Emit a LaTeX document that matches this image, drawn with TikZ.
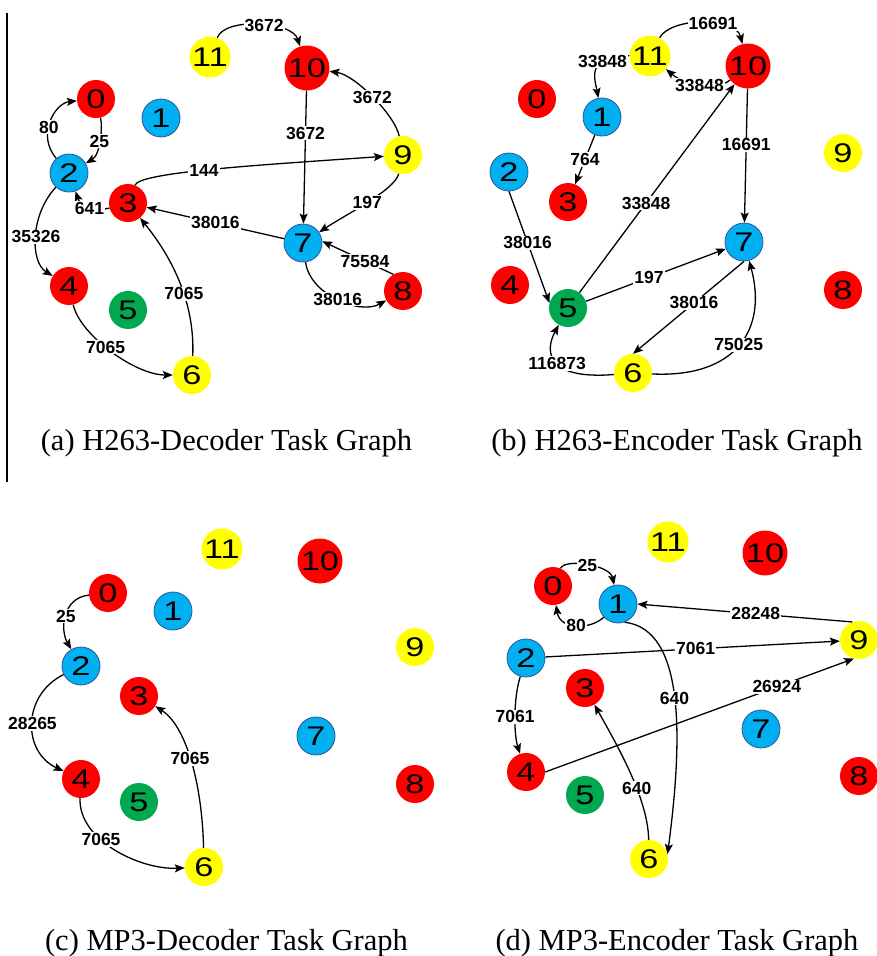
\documentclass[tikz,border=0pt]{standalone}
\usepackage{fontspec}
\setmainfont{Liberation Serif}
\newfontfamily\arialfont{Liberation Sans}
\usetikzlibrary{arrows.meta}

\definecolor{tred}{RGB}{255,0,0}
\definecolor{tyellow}{RGB}{255,255,0}
\definecolor{tgreen}{RGB}{0,168,80}
\definecolor{tblue}{RGB}{0,176,240}
\definecolor{tblueline}{RGB}{47,85,151}

% task numbers are set a little wide
\newcommand{\tasknum}[1]{\scalebox{1.27}[1]{#1}}

\tikzset{
  task/.style={circle, inner sep=0pt, minimum size=38pt,
    font=\arialfont\fontsize{27}{27}\selectfont, text=black},
  redtask/.style={task, fill=tred},
  yellowtask/.style={task, fill=tyellow},
  greentask/.style={task, fill=tgreen},
  bluetask/.style={task, fill=tblue, draw=tblueline, line width=0.8pt},
  % colour of each task index (same in every graph)
  t0/.style={redtask}, t1/.style={bluetask}, t2/.style={bluetask},
  t3/.style={redtask}, t4/.style={redtask}, t5/.style={greentask},
  t6/.style={yellowtask}, t7/.style={bluetask}, t8/.style={redtask},
  t9/.style={yellowtask}, t10/.style={redtask, minimum size=45pt},
  t11/.style={yellowtask, minimum size=41pt},
  edge/.style={line width=1.3pt, -{Stealth[length=10pt,width=8pt,inset=2pt]}},
  lbl/.style={fill=white, inner sep=1pt,
    font=\arialfont\bfseries\fontsize{17.5}{17.5}\selectfont},
  caption/.style={anchor=base, inner sep=0pt,
    font=\fontsize{30.5}{30.5}\selectfont},
}

\begin{document}
\begin{tikzpicture}[x=1pt, y=-1pt]
\useasboundingbox (0,0) rectangle (877,956);

% separator rule at the left of the first graph
\coordinate (ruleTop) at (7,13);
\coordinate (ruleBot) at (7,482);
\draw[line width=1.2pt] (ruleTop) -- (ruleBot);

% ---------------- (a) H263 decoder ----------------
\foreach \n/\x/\y in {0/96/99, 1/161/118, 2/69/173, 3/128/203, 4/69/286,
  5/128/310, 6/192/375, 7/303/243, 8/403/291, 9/403/155, 10/307/68, 11/210/57}
  \node[t\n] (a\n) at (\x,\y) {\tasknum{\n}};

\draw[edge] (a11) .. controls +(15,-40) and +(-15,-47) .. (a10) node[lbl,pos=0.55]{3672};
\draw[edge] (a9) .. controls +(-8,-40) and +(48,7) .. (a10) node[lbl,pos=0.5]{3672};
\draw[edge] (a10) -- (a7) node[lbl,pos=0.32]{3672};
\draw[edge] (a0) .. controls +(7,29) and +(31,-18) .. (a2) node[lbl,pos=0.5]{25};
\draw[edge] (a2) .. controls +(-33,-38) and +(-41,4) .. (a0) node[lbl,pos=0.42]{80};
\draw[edge] (a3) .. controls +(-33,9) and +(13,37) .. (a2) node[lbl,pos=0.5]{641};
\draw[edge] (a3) .. controls +(12,-31) and +(-143,10) .. (a9) node[lbl,pos=0.46]{144};
\draw[edge] (a9) .. controls +(-8,35) and +(42,-28) .. (a7) node[lbl,pos=0.5]{197};
\draw[edge] (a7) -- (a3) node[lbl,pos=0.5]{38016};
\draw[edge] (a8.120) -- (a7.5) node[lbl,pos=0.4]{75584};
\draw[edge] (a7) .. controls +(7,52) and +(-43,24) .. (a8) node[lbl,pos=0.5]{38016};
\draw[edge] (a2) .. controls +(-39,42) and +(-39,-24) .. (a4) node[lbl,pos=0.5]{35326};
\draw[edge] (a4) .. controls +(11,49) and +(-57,0) .. (a6) node[lbl,pos=0.45]{7065};
\draw[edge] (a6) .. controls +(3,-75) and +(42,52) .. (a3) node[lbl,pos=0.4]{7065};

\node[caption] (capA) at (226.5,450) {(a) H263-Decoder Task Graph};

% ---------------- (b) H263 encoder ----------------
\foreach \n/\x/\y in {0/537/99, 1/602/117, 2/509/172, 3/568/202, 4/510/285,
  5/568/308, 6/633/373, 7/744/242, 8/843/290, 9/843/153, 10/748/66, 11/650/56}
  \node[t\n] (b\n) at (\x,\y) {\tasknum{\n}};

\draw[edge] (b11) .. controls +(20,-38) and +(-13,-51) .. (b10) node[lbl,pos=0.6]{16691};
\draw[edge] (b10) .. controls +(-33,26) and +(35,29) .. (b11) node[lbl,pos=0.5]{33848};
\draw[edge] (b11) .. controls +(-65,-1) and +(-7,-37) .. (b1) node[lbl,pos=0.3]{33848};
\draw[edge] (b1) -- (b3) node[lbl,pos=0.5]{764};
\draw[edge] (b10) -- (b7) node[lbl,pos=0.42]{16691};
\draw[edge] (b5) -- (b10) node[lbl,pos=0.43]{33848};
\draw[edge] (b2.south) -- (b5.165) node[lbl,pos=0.46]{38016};
\draw[edge] (b5) -- (b7) node[lbl,pos=0.45]{197};
\draw[edge] (b7.south) -- (b6.north) node[lbl,pos=0.45]{38016};
\draw[edge] (b6) .. controls +(102,5) and +(24,88) .. (b7) node[lbl,pos=0.5]{75025};
\draw[edge] (b6) .. controls +(-88,7) and +(-23,42) .. (b5) node[lbl,pos=0.46]{116873};

\node[caption] (capB) at (677,450) {(b) H263-Encoder Task Graph};

% ---------------- (c) MP3 decoder ----------------
\foreach \n/\x/\y in {0/108/593, 1/173/611, 2/81/666, 3/139/696, 4/81/779,
  5/139/802, 6/204/867, 7/316/736, 8/415/784, 9/415/647, 10/320/561, 11/222/549}
  \node[t\n] (c\n) at (\x,\y) {\tasknum{\n}};

\draw[edge] (c0) .. controls +(-46,5) and +(-21,-36) .. (c2) node[lbl,pos=0.5]{25};
\draw[edge] (c2) .. controls +(-59,29) and +(-59,-27) .. (c4) node[lbl,pos=0.5]{28265};
\draw[edge] (c4) .. controls +(-3,61) and +(-64,3) .. (c6) node[lbl,pos=0.38]{7065};
\draw[edge] (c6) .. controls +(-2,-87) and +(46,29) .. (c3) node[lbl,pos=0.5]{7065};

\node[caption] (capC) at (226.5,950) {(c) MP3-Decoder Task Graph};

% ---------------- (d) MP3 encoder ----------------
\foreach \n/\x/\y in {0/553/586, 1/618/604, 2/526/658, 3/585/688, 4/526/772,
  5/585/795, 6/649/859, 7/761/729, 8/859/776, 9/859/640, 10/765/553, 11/668/542}
  \node[t\n] (d\n) at (\x,\y) {\tasknum{\n}};

\draw[edge] (d0) .. controls +(12,-28) and +(-8,-39) .. (d1) node[lbl,pos=0.5]{25};
\draw[edge] (d1) .. controls +(-28,26) and +(7,44) .. (d0) node[lbl,pos=0.5]{80};
\draw[edge] (d9.110) -- (d1.east) node[lbl,pos=0.45]{28248};
\draw[edge] (d2) -- (d9) node[lbl,pos=0.51]{7061};
\draw[edge] (d4.east) -- (d9.-105) node[lbl,pos=0.75]{26924};
\draw[edge] (d2) .. controls +(-13,42) and +(-12,-37) .. (d4) node[lbl,pos=0.5]{7061};
\draw[edge] (d6) .. controls +(-1,-59) and +(35,62) .. (d3) node[lbl,pos=0.4]{640};
\draw[edge] (d1.-70) .. controls +(61,7) and +(15,-114) .. (d6.15) node[lbl,pos=0.5]{640};

\node[caption] (capD) at (677,950) {(d) MP3-Encoder Task Graph};
\end{tikzpicture}
\end{document}
